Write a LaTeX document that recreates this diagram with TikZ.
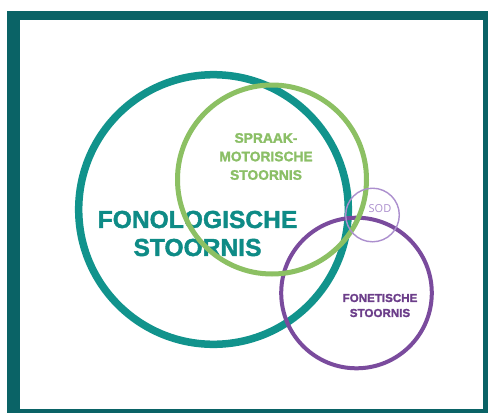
\documentclass[tikz,border=0pt]{standalone}
\usepackage{fontspec}
\setmainfont{Liberation Sans}
\newfontfamily\heavy{Liberation Sans}[BoldFont={* Bold}, BoldFeatures={FakeBold=1.6}]
\newfontfamily\sodfont{Open Sans}
\definecolor{frameteal}{HTML}{0A6366}
\definecolor{ringteal}{HTML}{11938C}
\definecolor{textteal}{HTML}{0E8B86}
\definecolor{ringgreen}{HTML}{8CC063}
\definecolor{textgreen}{HTML}{8BBF66}
\definecolor{ringpurple}{HTML}{7A4B9D}
\definecolor{textpurple}{HTML}{6C3E8A}
\definecolor{sodpurple}{HTML}{AC8FCE}
\tikzset{
  ring/.style={draw, fill=none},
  label/.style={align=center, inner sep=0pt},
}
\begin{document}
\begin{tikzpicture}[x=1pt, y=-1pt]
\useasboundingbox (0,0) rectangle (488,413);
\fill[white] (0,0) rectangle (488,413);
\fill[frameteal] (7,11) rectangle (488,413);
\fill[white] (20,20) rectangle (483,409);

% texts
\node[label, text=textteal, font=\heavy\bfseries\fontsize{24.6}{28}\selectfont] (fono) at (197.5,233.5) {FONOLOGISCHE\\STOORNIS};
\node[label, text=textgreen, font=\heavy\bfseries\fontsize{13.8}{18.5}\selectfont] (spraak) at (266,156.5) {SPRAAK-\\MOTORISCHE\\STOORNIS};
\node[label, text=textpurple, font=\heavy\bfseries\fontsize{11.6}{15}\selectfont] (fonet) at (380,305.5) {FONETISCHE\\STOORNIS};
\node[inner sep=0pt, text=sodpurple, font=\sodfont\fontsize{11}{13}\selectfont] (sod) at (380,208.5) {SOD};

% circles
\draw[ring, ringteal, line width=7.5pt] (213.5,209.5) circle[radius=134.8];
\draw[ring, ringpurple, line width=4pt] (356.5,293) circle[radius=75.3];
\draw[ring, ringgreen, line width=5pt] (272,179.5) circle[radius=94.5];
\draw[ring, sodpurple, line width=1.4pt] (372.5,215) circle[radius=26.8];
\end{tikzpicture}
\end{document}
